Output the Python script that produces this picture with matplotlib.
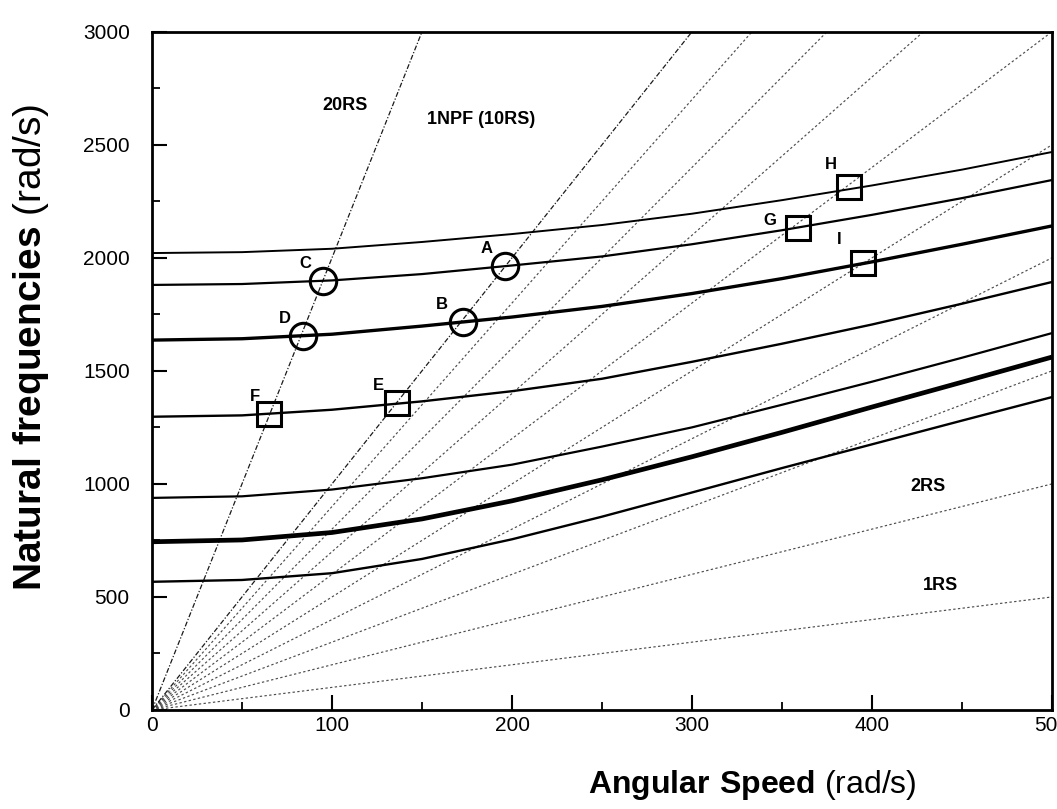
import numpy as np
import matplotlib
matplotlib.use("Agg")
import matplotlib.pyplot as plt

plt.rcParams['font.family'] = ['Liberation Sans', 'DejaVu Sans']
plt.rcParams['mathtext.fontset'] = 'custom'
plt.rcParams['mathtext.rm'] = 'Liberation Sans'
plt.rcParams['mathtext.bf'] = 'Liberation Sans:bold'

# ---- data ----
speed = [0, 50, 100, 150, 200, 250, 300, 350, 400, 450, 500]
curve1 = [2021, 2025, 2040, 2070, 2105, 2145, 2195, 2255, 2320, 2390, 2468]
curve2 = [1880, 1884, 1900, 1928, 1966, 2006, 2060, 2122, 2190, 2264, 2344]
curve3 = [1636, 1642, 1662, 1698, 1738, 1785, 1842, 1908, 1982, 2060, 2141]
curve4 = [1297, 1303, 1328, 1365, 1410, 1465, 1540, 1620, 1705, 1797, 1893]
curve5 = [938, 945, 975, 1025, 1085, 1165, 1250, 1350, 1452, 1558, 1667]
curve6 = [744, 752, 785, 845, 925, 1018, 1120, 1228, 1340, 1450, 1561]
curve7 = [567, 575, 605, 668, 755, 855, 962, 1070, 1175, 1280, 1384]
curves = [curve1, curve2, curve3, curve4, curve5, curve6, curve7]
curve_widths = [1.4, 1.6, 2.4, 1.7, 1.6, 3.4, 1.7]

ray_orders = [1, 2, 3, 4, 5, 6, 7, 8, 9, 10, 20]
ray_x = [0, 500]

circle_labels = ['A', 'B', 'C', 'D']
circle_x = [196, 173, 95, 84]
circle_y = [1964, 1716, 1897, 1654]
square_labels = ['E', 'F', 'G', 'H', 'I']
square_x = [136, 65, 359, 387, 395]
square_y = [1358, 1309, 2132, 2314, 1977]

ray_labels = ['20RS', '1NPF (10RS)', '2RS', '1RS']
ray_label_x = [107, 183, 431, 438]
ray_label_y = [2675, 2610, 990, 550]

x_ticks = [0, 100, 200, 300, 400, 500]
y_ticks = [0, 500, 1000, 1500, 2000, 2500, 3000]

# ---- figure ----
fig = plt.figure(figsize=(10.57, 8.09), dpi=100)
ax = fig.add_axes([0.1438, 0.1224, 0.8515, 0.8384])

for k in ray_orders:
    ys = [k * v for v in ray_x]
    if k in (10, 20):
        ax.plot(ray_x, ys, color='0.1', lw=0.9, dashes=(4, 1.5, 1, 1.5), zorder=2)
    else:
        ax.plot(ray_x, ys, color='0.3', lw=0.85, dashes=(2, 2), zorder=2)

for c, w in zip(curves, curve_widths):
    ax.plot(speed, c, color='black', lw=w, solid_capstyle='butt',
            solid_joinstyle='round', zorder=3)

ax.plot(circle_x, circle_y, 'o', ms=19, mfc='none', mec='black', mew=2.2, zorder=4)
ax.plot(square_x, square_y, 's', ms=17, mfc='none', mec='black', mew=2.2, zorder=4)

circ_off = {'A': (-10, 45), 'B': (-12, 45), 'C': (-10, 45), 'D': (-10, 45)}
for lab, x, y in zip(circle_labels, circle_x, circle_y):
    dx, dy = circ_off[lab]
    ax.text(x + dx, y + dy, lab, fontsize=12, fontweight='bold', ha='center', va='bottom', zorder=5)
sq_off = {'E': (-10, 45), 'F': (-8, 45), 'G': (-16, 0), 'H': (-10, 65), 'I': (-13, 70)}
for lab, x, y in zip(square_labels, square_x, square_y):
    dx, dy = sq_off[lab]
    ax.text(x + dx, y + dy, lab, fontsize=12, fontweight='bold', ha='center', va='bottom', zorder=5)

for t, x, y in zip(ray_labels, ray_label_x, ray_label_y):
    ax.text(x, y, t, fontsize=13, fontweight='bold', ha='center', va='center', zorder=5)

ax.set_xlim(0, 500)
ax.set_ylim(0, 3000)
ax.set_xticks(x_ticks)
ax.set_yticks(y_ticks)
ax.set_xticks([50, 150, 250, 350, 450], minor=True)
ax.set_yticks([250, 750, 1250, 1750, 2250, 2750], minor=True)
ax.tick_params(which='major', direction='in', length=11, width=1.5, labelsize=15)
ax.tick_params(axis='y', which='major', pad=16)
ax.tick_params(axis='x', which='major', pad=4)
ax.tick_params(which='minor', direction='in', length=6, width=1.3)
ax.tick_params(top=False, right=False)
for s in ax.spines.values():
    s.set_linewidth(2)

ax.set_xlabel(r'$\bf{Angular\ Speed}$ (rad/s)', fontsize=23)
ax.xaxis.set_label_coords(0.667, -0.086)
ax.set_ylabel(r'$\bf{Natural\ frequencies}$ (rad/s)', fontsize=28)
ax.yaxis.set_label_coords(-0.112, 0.535)

fig.savefig('out.png', dpi=100)
